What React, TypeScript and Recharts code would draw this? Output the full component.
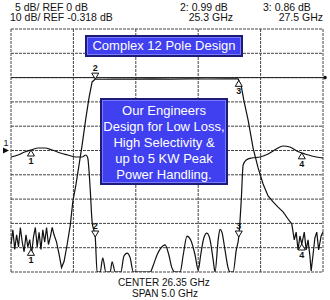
import {
  ComposedChart,
  Line,
  XAxis,
  YAxis,
  CartesianGrid,
  ReferenceDot,
  ReferenceLine,
} from 'recharts';

// sweep: center 26.35 GHz, span 5.0 GHz
const freqTicks = [23.85, 24.35, 24.85, 25.35, 25.85, 26.35, 26.85, 27.35, 27.85, 28.35, 28.85];
// channel 1 (S11): 5 dB/div, ref 0 dB at centre line
const s11Ticks = [-25, -20, -15, -10, -5, 0, 5, 10, 15, 20, 25];
const S21_REF = -0.318;

// channel 2 (S21), 10 dB/div
const s21Freq = [
  23.85, 23.88, 23.91, 23.94, 23.97, 24.0, 24.03, 24.06, 24.09, 24.12, 24.15, 24.18, 24.21, 24.24,
  24.27, 24.3, 24.33, 24.36, 24.39, 24.42, 24.45, 24.48, 24.51, 24.54, 24.58, 24.62, 24.66,
  24.7, 24.75, 24.8, 24.84, 24.89, 24.94, 24.99, 25.05, 25.1, 25.15, 25.2, 25.3, 25.5, 25.8,
  26.1, 26.4, 26.7, 27.0, 27.3, 27.49, 27.54, 27.58, 27.65, 27.73, 27.81, 27.89, 27.97, 28.05,
  28.13, 28.21, 28.29, 28.35, 28.39, 28.42, 28.45, 28.48, 28.51, 28.55, 28.58, 28.61, 28.64,
  28.66, 28.69, 28.72, 28.75, 28.78, 28.82, 28.85,
];
const s21Db = [
  -69, -63, -71, -65, -70, -62, -68, -72, -65, -70, -67, -73, -66, -62,
  -70, -64, -71, -63, -68, -62, -69, -66, -62, -65, -68, -73, -78.5,
  -76, -69, -61, -51.5, -44.5, -36.3, -28, -17, -8.7, -2.1, -0.95, -0.99, -0.9, -0.95,
  -0.85, -0.95, -0.85, -0.9, -0.85, -0.86, -3.8, -9.5, -17.8, -29.3, -37.5, -44.1, -49, -51.5,
  -53.6, -55.6, -58.5, -60.6, -67.1, -63.9, -71.2, -65.5, -68.8, -63.9, -71.2, -67.1, -73.7,
  -79.9, -73.3, -66.3, -63.9, -71.2, -65.5, -63.9,
];

// channel 1 (S11), 5 dB/div
const s11Freq = [
  23.85, 23.96, 24.07, 24.17, 24.29, 24.39, 24.51, 24.64, 24.76, 24.89, 24.99, 25.05, 25.08,
  25.12, 25.15, 25.2, 25.23, 25.28, 25.32, 25.37, 25.44, 25.47, 25.52, 25.61, 25.66, 25.71,
  25.76, 25.81, 26.08, 26.13, 26.19, 26.25, 26.32, 26.38, 26.43, 26.48, 26.56, 26.61, 26.67,
  26.73, 26.8, 26.85, 26.89, 26.94, 26.99, 27.04, 27.09, 27.12, 27.17, 27.2, 27.23, 27.28,
  27.33, 27.36, 27.41, 27.46, 27.5, 27.54, 27.57, 27.62, 27.71, 27.84, 27.97, 28.1, 28.21,
  28.32, 28.43, 28.56, 28.67, 28.85,
];
const s11Db = [
  -1.34, -0.93, -0.31, 0.1, 0.51, 0.51, 0.1, -0.51, -0.93, -1.34, -1.34, -0.93, -1.54,
  -8.1, -14.7, -17.8, -25, -25, -22.1, -25, -25, -22.9, -25, -25, -21.7, -21.1,
  -22.1, -25, -25, -23.6, -21.5, -20.1, -19.4, -21.5, -24.2, -25, -25, -21.5, -17.6,
  -18.4, -21.5, -24.6, -21.5, -18.0, -17.0, -18.4, -22.5, -25, -18.4, -16.2, -16.8, -20.5,
  -24.2, -25, -25, -20.5, -17.8, -10.2, -3.0, -1.95, -1.54, -1.34, -0.72, 0.31, 0.93,
  0.72, -0.1, -0.72, -1.13, -1.54,
];

const markerLabels = ['1', '2', '3', '4'];
const markerFreqs = [24.17, 25.2, 27.5, 28.51];
const s11MarkerBelow = [true, false, false, true];
const s21MarkerBelow = [true, false, true, true];

const s21Rows = s21Freq.map((f, i) => ({ f, db: s21Db[i] }));
const s11Rows = s11Freq.map((f, i) => ({ f, db: s11Db[i] }));

function dbAt(freqs: number[], dbs: number[], f: number) {
  for (let i = 1; i < freqs.length; i++) {
    if (f <= freqs[i]) {
      const t = (f - freqs[i - 1]) / (freqs[i] - freqs[i - 1]);
      return dbs[i - 1] + t * (dbs[i] - dbs[i - 1]);
    }
  }
  return dbs[dbs.length - 1];
}

const FONT = '"Liberation Sans", Arial, sans-serif';

function MarkerGlyph({ cx, cy, label, below }: any) {
  if (cx == null || cy == null) return null;
  if (below) {
    return (
      <g>
        <path d={`M${cx},${cy} L${cx - 3.5},${cy + 6} L${cx + 3.5},${cy + 6} Z`} fill="#fff" stroke="#111" strokeWidth={1} />
        <text x={cx} y={cy + 14} textAnchor="middle" fontSize={9} fontFamily={FONT} fontWeight={700} fill="#111">
          {label}
        </text>
      </g>
    );
  }
  return (
    <g>
      <path d={`M${cx},${cy} L${cx - 3.5},${cy - 6} L${cx + 3.5},${cy - 6} Z`} fill="#fff" stroke="#111" strokeWidth={1} />
      <text x={cx} y={cy - 8} textAnchor="middle" fontSize={9} fontFamily={FONT} fontWeight={700} fill="#111">
        {label}
      </text>
    </g>
  );
}

const boxStyle: React.CSSProperties = {
  position: 'absolute',
  background: '#4040f0',
  border: '2px solid #1c1c78',
  boxShadow: 'inset 0 0 0 1px #7a7aff',
  color: '#fff',
  fontFamily: FONT,
  fontSize: 13,
  textAlign: 'center',
  boxSizing: 'border-box',
};

export default function App() {
  return (
    <div style={{ position: 'absolute', left: 0, top: 0, width: 330, height: 300, background: '#fff' }}>
      <ComposedChart width={330} height={300} margin={{ top: 29, right: 7, bottom: 28, left: 11 }}>
        <XAxis dataKey="f" type="number" domain={[23.85, 28.85]} ticks={freqTicks} hide />
        <YAxis yAxisId="s11" type="number" domain={[-25, 25]} ticks={s11Ticks} hide allowDataOverflow />
        <YAxis yAxisId="s21" type="number" domain={[S21_REF - 80, S21_REF + 20]} hide allowDataOverflow />
        <CartesianGrid yAxisId="s11" stroke="#444" strokeDasharray="3 1" />
        <ReferenceLine yAxisId="s21" y={S21_REF} stroke="#222" strokeWidth={1} />
        <Line
          yAxisId="s21"
          data={s21Rows}
          dataKey="db"
          type="linear"
          stroke="#111"
          strokeWidth={1.2}
          dot={false}
          isAnimationActive={false}
        />
        <Line
          yAxisId="s11"
          data={s11Rows}
          dataKey="db"
          type="monotone"
          stroke="#111"
          strokeWidth={1.2}
          dot={false}
          isAnimationActive={false}
        />
        {markerFreqs.map((f, i) => (
          <ReferenceDot
            key={'s11' + i}
            yAxisId="s11"
            x={f}
            y={dbAt(s11Freq, s11Db, f)}
            shape={(p: any) => <MarkerGlyph cx={p.cx} cy={p.cy} label={markerLabels[i]} below={s11MarkerBelow[i]} />}
          />
        ))}
        {markerFreqs.map((f, i) => (
          <ReferenceDot
            key={'s21' + i}
            yAxisId="s21"
            x={f}
            y={dbAt(s21Freq, s21Db, f)}
            shape={(p: any) => <MarkerGlyph cx={p.cx} cy={p.cy} label={markerLabels[i]} below={s21MarkerBelow[i]} />}
          />
        ))}
        <ReferenceDot
          yAxisId="s11"
          x={23.85}
          y={0}
          shape={(p: any) => (
            <g>
              <path d={`M${p.cx - 8},${p.cy - 3} L${p.cx - 2},${p.cy} L${p.cx - 8},${p.cy + 3} Z`} fill="#111" />
              <text x={p.cx - 5} y={p.cy - 5} textAnchor="middle" fontSize={9} fontFamily={FONT} fill="#111">1</text>
            </g>
          )}
        />
        <ReferenceDot
          yAxisId="s21"
          x={28.85}
          y={S21_REF}
          shape={(p: any) => <circle cx={p.cx + 2} cy={p.cy} r={1.8} fill="#111" />}
        />
      </ComposedChart>

      <svg width={330} height={300} style={{ position: 'absolute', left: 0, top: 0, pointerEvents: 'none' }}>
        <g fontFamily={FONT} fontSize={10.5} fill="#111">
          <text x={15} y={10.5}>5 dB/ REF 0 dB</text>
          <text x={10} y={21}>10 dB/ REF -0.318 dB</text>
          <text x={180} y={10.5}>2: 0.99 dB</text>
          <text x={233} y={21} textAnchor="end">25.3 GHz</text>
          <text x={263} y={10.5}>3: 0.86 dB</text>
          <text x={323} y={21} textAnchor="end">27.5 GHz</text>
        </g>
        <g fontFamily={FONT} fontSize={10} fill="#111">
          <text x={118} y={286}>CENTER 26.35 GHz</text>
          <text x={132} y={297}>SPAN 5.0 GHz</text>
        </g>
      </svg>

      <div style={{ ...boxStyle, left: 85, top: 35, width: 158, height: 22, lineHeight: '18px' }}>
        Complex 12 Pole Design
      </div>
      <div style={{ ...boxStyle, left: 100, top: 98, width: 128, height: 87, lineHeight: '16px', paddingTop: 3 }}>
        Our Engineers
        <br />
        Design for Low Loss,
        <br />
        High Selectivity &amp;
        <br />
        up to 5 KW Peak
        <br />
        Power Handling.
      </div>
    </div>
  );
}
